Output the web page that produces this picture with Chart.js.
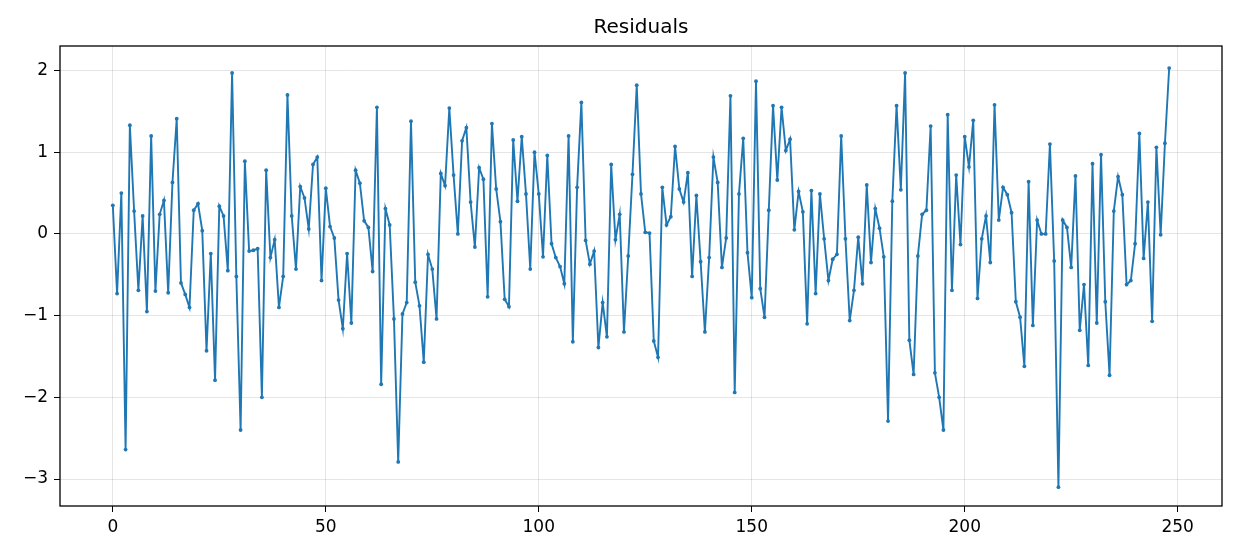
<!DOCTYPE html>
<html><head><meta charset="utf-8">
<script src="https://cdn.jsdelivr.net/npm/chart.js@4"></script>
<style>html,body{margin:0;padding:0;background:#fff}</style>
</head><body>
<canvas id="c" width="1237" height="558"></canvas>
<script>
const titleText = "Residuals";
const residuals = [
 0.35,-0.73,0.50,-2.64,1.33,0.28,-0.69,0.22,-0.95,1.20,
 -0.70,0.24,0.41,-0.72,0.63,1.41,-0.60,-0.74,-0.90,0.29,
 0.37,0.04,-1.43,-0.24,-1.79,0.34,0.22,-0.45,1.97,-0.52,
 -2.40,0.89,-0.21,-0.20,-0.18,-2.00,0.78,-0.29,-0.07,-0.90,
 -0.52,1.70,0.22,-0.43,0.58,0.44,0.06,0.85,0.94,-0.57,
 0.56,0.09,-0.05,-0.81,-1.16,-0.24,-1.09,0.78,0.62,0.16,
 0.08,-0.46,1.55,-1.84,0.31,0.11,-1.04,-2.79,-0.98,-0.84,
 1.38,-0.59,-0.88,-1.57,-0.25,-0.43,-1.04,0.74,0.59,1.54,
 0.72,0.00,1.14,1.30,0.39,-0.16,0.81,0.67,-0.77,1.35,
 0.55,0.15,-0.80,-0.89,1.15,0.40,1.19,0.49,-0.43,1.00,
 0.49,-0.28,0.96,-0.12,-0.29,-0.40,-0.61,1.20,-1.32,0.57,
 1.61,-0.08,-0.37,-0.21,-1.39,-0.84,-1.26,0.85,-0.07,0.24,
 -1.20,-0.27,0.73,1.82,0.49,0.02,0.01,-1.31,-1.51,0.57,
 0.11,0.21,1.07,0.55,0.39,0.75,-0.52,0.47,-0.34,-1.20,
 -0.29,0.94,0.63,-0.41,-0.05,1.69,-1.94,0.49,1.17,-0.23,
 -0.78,1.87,-0.67,-1.02,0.29,1.57,0.66,1.55,1.02,1.16,
 0.05,0.52,0.27,-1.10,0.53,-0.73,0.49,-0.06,-0.57,-0.31,
 -0.25,1.20,-0.06,-1.06,-0.69,-0.04,-0.61,0.60,-0.35,0.31,
 0.07,-0.28,-2.29,0.40,1.57,0.54,1.97,-1.30,-1.72,-0.27,
 0.24,0.29,1.32,-1.70,-2.00,-2.40,1.46,-0.69,0.72,-0.13,
 1.19,0.82,1.39,-0.79,-0.06,0.22,-0.35,1.58,0.17,0.57,
 0.48,0.26,-0.83,-1.02,-1.62,0.64,-1.12,0.17,0.00,0.00,
 1.10,-0.33,-3.10,0.17,0.08,-0.41,0.71,-1.18,-0.62,-1.61,
 0.86,-1.09,0.97,-0.83,-1.73,0.28,0.70,0.48,-0.62,-0.57,
 -0.12,1.23,-0.30,0.39,-1.07,1.06,-0.01,1.11,2.03
];
const xTicks = [0,50,100,150,200,250];
const yTicks = [-3,-2,-1,0,1,2];

const fontFam = "'DejaVu Sans', sans-serif";
const fmt = v => v < 0 ? '\u2212' + Math.abs(v) : String(v);

const framePlugin = {
  id: 'frame',
  afterDraw(chart) {
    const {ctx, chartArea: a} = chart;
    ctx.save();
    ctx.strokeStyle = '#000';
    ctx.lineWidth = 1.3;
    ctx.strokeRect(a.left, a.top, a.right - a.left, a.bottom - a.top);
    ctx.fillStyle = '#000';
    ctx.font = "20px " + fontFam;
    ctx.textAlign = 'center';
    ctx.textBaseline = 'alphabetic';
    ctx.fillText(titleText, (a.left + a.right) / 2, 33);
    ctx.restore();
  }
};

new Chart(document.getElementById('c'), {
  type: 'line',
  data: {
    datasets: [{
      data: residuals.map((v, i) => ({x: i, y: v})),
      borderColor: '#1f77b4',
      backgroundColor: '#1f77b4',
      borderWidth: 1.9,
      pointRadius: 1.9,
      pointHoverRadius: 1.9,
      pointBorderWidth: 0,
      tension: 0,
      fill: false
    }]
  },
  options: {
    responsive: false,
    devicePixelRatio: 1,
    animation: false,
    events: [],
    layout: {padding: {left: 0, right: 15, top: 46, bottom: 0}},
    plugins: {legend: {display: false}, title: {display: false}, tooltip: {enabled: false}},
    scales: {
      x: {
        type: 'linear', min: -12.4, max: 260.4,
        afterBuildTicks: s => { s.ticks = xTicks.map(v => ({value: v})); },
        afterFit: s => { s.height = 52; },
        ticks: {color: '#000', font: {family: fontFam, size: 17}, padding: 5, maxRotation: 0, callback: fmt},
        grid: {color: 'rgba(176,176,176,0.33)', lineWidth: 1, tickColor: '#000', tickLength: 6, drawTicks: true},
        border: {display: false}
      },
      y: {
        type: 'linear', min: -3.33, max: 2.30,
        afterBuildTicks: s => { s.ticks = yTicks.map(v => ({value: v})); },
        afterFit: s => { s.width = 60; },
        ticks: {color: '#000', font: {family: fontFam, size: 17}, padding: 6, callback: fmt},
        grid: {color: 'rgba(176,176,176,0.33)', lineWidth: 1, tickColor: '#000', tickLength: 6, drawTicks: true},
        border: {display: false}
      }
    }
  },
  plugins: [framePlugin]
});
</script>
</body></html>
